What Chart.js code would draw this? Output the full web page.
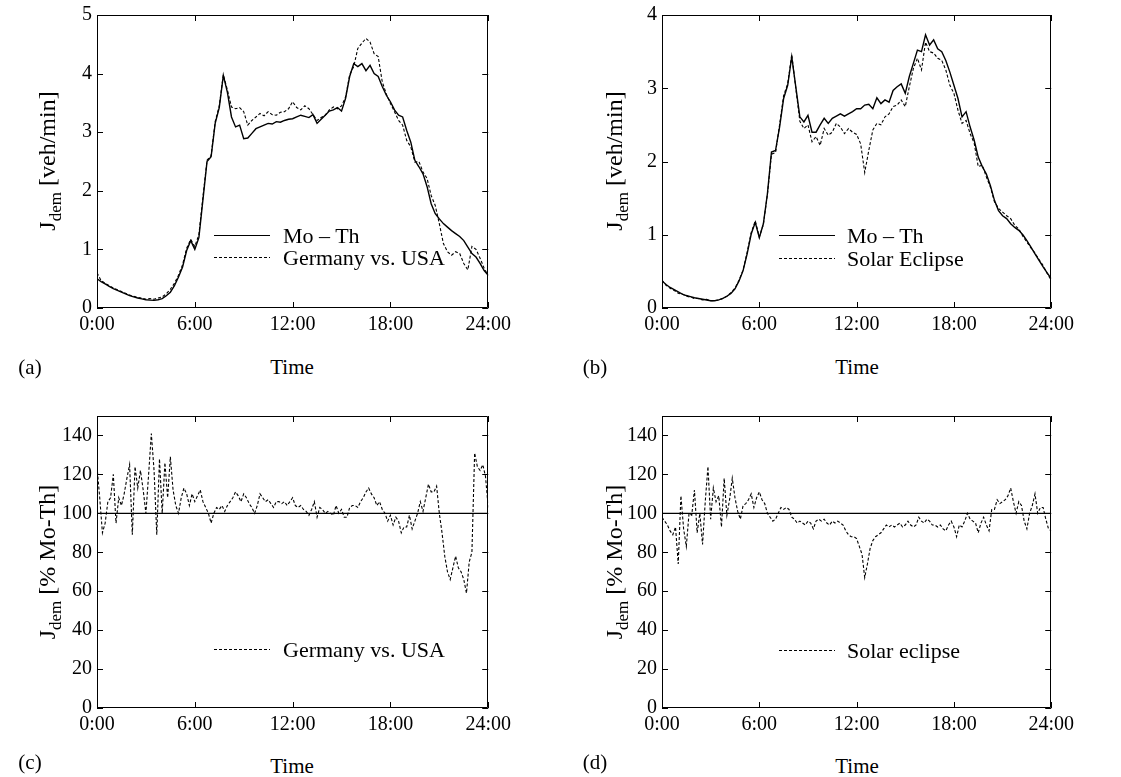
<!DOCTYPE html>
<html>
<head>
<meta charset="utf-8">
<script src="https://cdn.jsdelivr.net/npm/chart.js@4.4.1/dist/chart.umd.min.js"></script>
<style>
    body { margin: 0; background: #fff; width: 1121px; height: 777px; overflow: hidden; position: relative;
           font-family: "Liberation Serif", "Times New Roman", serif; color: #000; }
    canvas { position: absolute; }
    .c { position: absolute; transform: translate(-50%, -50%); font-size: 21px; line-height: 1; white-space: nowrap; }
    .yt { transform: translate(-50%, -50%) rotate(-90deg); font-size: 24px; }
    .yt .sub { font-size: 17px; position: relative; top: 6px; }
    .leg { position: absolute; font-size: 22px; line-height: 1; white-space: nowrap; transform: translateY(-50%); }
    .ln { position: absolute; width: 56px; height: 1px; background: #000; }
    .ln.dash { background: repeating-linear-gradient(to right, #000 0 3px, transparent 3px 5px); }
</style>
</head>
<body>
<canvas id="panelA"></canvas>
<canvas id="panelB"></canvas>
<canvas id="panelC"></canvas>
<canvas id="panelD"></canvas>

<!-- axis titles -->
<div class="c yt" style="left:47px;top:161px">J<span class="sub">dem</span> [veh/min]</div>
<div class="c yt" style="left:614px;top:161px">J<span class="sub">dem</span> [veh/min]</div>
<div class="c yt" style="left:47px;top:562px">J<span class="sub">dem</span> [% Mo-Th]</div>
<div class="c yt" style="left:614px;top:562px">J<span class="sub">dem</span> [% Mo-Th]</div>
<div class="c" style="left:292px;top:367px">Time</div>
<div class="c" style="left:857px;top:367px">Time</div>
<div class="c" style="left:292px;top:766px">Time</div>
<div class="c" style="left:857px;top:766px">Time</div>
<div class="c" style="left:30px;top:367px">(a)</div>
<div class="c" style="left:595px;top:367px">(b)</div>
<div class="c" style="left:30px;top:762px">(c)</div>
<div class="c" style="left:595px;top:762px">(d)</div>

<!-- legends -->
<div class="ln" style="left:214px;top:235px"></div>
<div class="leg" style="left:283px;top:236px">Mo – Th</div>
<div class="ln dash" style="left:214px;top:257px"></div>
<div class="leg" style="left:283px;top:258px">Germany vs. USA</div>

<div class="ln" style="left:779px;top:235px"></div>
<div class="leg" style="left:847px;top:236px">Mo – Th</div>
<div class="ln dash" style="left:779px;top:258px"></div>
<div class="leg" style="left:847px;top:259px">Solar Eclipse</div>

<div class="ln dash" style="left:214px;top:649px"></div>
<div class="leg" style="left:283px;top:650px">Germany vs. USA</div>
<div class="ln dash" style="left:779px;top:650px"></div>
<div class="leg" style="left:847px;top:651px">Solar eclipse</div>

<script>
// x axis (hours of the day)
const xTickHours = [0, 6, 12, 18, 24];
const xTickLabels = ['0:00', '6:00', '12:00', '18:00', '24:00'];

// y ticks
const flowTicksA = [0, 1, 2, 3, 4, 5];
const flowTicksB = [0, 1, 2, 3, 4];
const pctTicks = [0, 20, 40, 60, 80, 100, 120, 140];

// (a),(b): demand in veh/min, one value every 15 min
const stepFlow = 0.25;
const aMoTh = [0.50,0.45,0.41,0.37,0.33,0.30,0.27,0.24,0.21,0.19,0.17,0.155,0.14,0.135,0.13,0.14,0.16,0.21,0.27,0.38,
    0.53,0.70,0.98,1.15,1.00,1.20,1.85,2.50,2.58,3.15,3.42,3.97,3.68,3.26,3.09,3.12,2.89,2.90,2.98,3.06,
    3.09,3.12,3.15,3.14,3.18,3.17,3.20,3.22,3.23,3.26,3.29,3.27,3.25,3.30,3.15,3.22,3.29,3.36,3.38,3.42,
    3.36,3.58,3.95,4.17,4.12,4.17,4.05,4.14,4.00,3.95,3.78,3.63,3.52,3.38,3.29,3.26,3.03,2.83,2.52,2.41,
    2.29,2.07,1.78,1.61,1.52,1.44,1.38,1.32,1.27,1.22,1.15,1.04,0.93,0.87,0.76,0.64,0.56];
const aGermany = [0.60,0.47,0.42,0.38,0.34,0.31,0.28,0.25,0.22,0.20,0.18,0.17,0.15,0.16,0.15,0.17,0.19,0.24,0.32,0.42,
    0.56,0.74,1.02,1.17,1.05,1.25,1.90,2.52,2.60,3.18,3.45,3.98,3.72,3.43,3.40,3.42,3.35,3.12,3.20,3.26,
    3.32,3.28,3.35,3.30,3.29,3.34,3.35,3.40,3.52,3.42,3.38,3.45,3.40,3.30,3.20,3.25,3.29,3.38,3.43,3.40,
    3.45,3.60,3.98,4.12,4.43,4.52,4.60,4.54,4.34,4.29,3.86,3.65,3.49,3.35,3.20,3.12,2.86,2.75,2.49,2.50,
    2.32,2.21,1.92,1.75,1.44,1.10,0.96,0.90,0.96,0.93,0.76,0.65,1.05,1.00,0.85,0.68,0.55];
const bMoTh = [0.37,0.32,0.28,0.25,0.22,0.19,0.17,0.155,0.14,0.13,0.12,0.11,0.10,0.10,0.11,0.13,0.16,0.20,0.26,0.37,
    0.51,0.74,1.01,1.17,0.96,1.15,1.56,2.13,2.15,2.47,2.86,3.04,3.43,3.02,2.61,2.54,2.63,2.40,2.40,2.50,
    2.59,2.52,2.59,2.62,2.65,2.62,2.65,2.68,2.72,2.72,2.77,2.78,2.72,2.87,2.79,2.84,2.81,2.97,3.02,3.06,
    2.93,3.16,3.34,3.52,3.50,3.73,3.59,3.66,3.54,3.50,3.38,3.22,3.04,2.86,2.61,2.68,2.47,2.29,2.06,1.93,
    1.83,1.67,1.47,1.33,1.26,1.22,1.15,1.10,1.06,1.00,0.92,0.83,0.74,0.65,0.56,0.48,0.40];
const bEclipse = [0.38,0.31,0.27,0.24,0.20,0.19,0.16,0.15,0.13,0.13,0.11,0.12,0.10,0.10,0.11,0.13,0.16,0.21,0.27,0.38,
    0.52,0.76,1.03,1.19,0.97,1.14,1.55,2.10,2.12,2.50,2.90,3.06,3.46,3.00,2.55,2.45,2.50,2.27,2.34,2.22,
    2.45,2.36,2.40,2.52,2.47,2.38,2.45,2.40,2.37,2.24,1.85,2.15,2.43,2.52,2.50,2.61,2.65,2.75,2.77,2.84,
    2.75,3.02,3.27,3.41,3.25,3.63,3.50,3.48,3.41,3.38,3.25,3.04,2.93,2.70,2.52,2.56,2.38,2.25,1.93,1.95,
    1.79,1.65,1.45,1.36,1.31,1.26,1.22,1.13,1.08,0.98,0.90,0.82,0.75,0.66,0.58,0.47,0.38];

// (c),(d): demand in % of Mo-Th, one value every 10 min
const stepPct = 1 / 6;
const cGermanyPct = [124,108,90,95,106,108,120,95,108,104,110,118,125,89,124,113,122,112,100,120,141,122,89,128,100,126,108,129,112,104,
    100,108,113,110,104,110,106,109,112,106,103,100,95,100,103,102,104,101,104,106,108,111,109,106,110,108,105,103,100,104,
    110,108,106,107,105,103,106,106,105,106,104,106,108,104,103,104,102,101,99,102,106,98,103,102,100,101,100,99,104,100,
    102,98,98,103,104,104,103,106,108,111,113,110,108,104,106,102,100,96,99,94,98,96,90,93,93,99,92,96,100,106,
    101,108,115,111,111,114,100,90,78,70,66,72,78,72,70,66,59,75,80,131,124,122,125,119,103];
const dEclipsePct = [98,96,94,91,89,93,74,109,92,83,100,99,112,90,100,84,106,124,97,113,106,109,93,118,99,107,118,108,101,97,
    104,105,107,110,103,108,111,107,105,100,98,96,97,100,103,102,103,102,98,97,95,96,95,94,96,95,92,96,97,96,
    97,95,94,96,95,96,95,94,91,89,88,88,87,83,79,67,74,82,86,88,89,90,92,94,93,94,93,94,95,93,
    94,96,94,93,94,98,96,95,97,96,94,94,93,94,92,91,94,96,93,88,94,93,96,100,97,96,95,90,95,98,
    94,91,102,102,107,105,106,107,109,113,106,100,106,104,96,92,100,104,110,100,103,103,97,92,91];

// reference level (Mo-Th = 100 %)
const refLevel = [100, 100];

const TICK_FONT = { family: 'Liberation Serif', size: 20 };

// frame with inward ticks on all four sides (gnuplot look)
const framePlugin = {
    id: 'frame',
    afterDatasetsDraw(chart) {
        const ctx = chart.ctx;
        const a = chart.chartArea;
        const xs = chart.scales.x;
        const ys = chart.scales.y;
        const len = 6;
        ctx.save();
        ctx.strokeStyle = '#000';
        ctx.lineWidth = 1;
        ctx.beginPath();
        ctx.rect(Math.round(a.left) + 0.5, Math.round(a.top) + 0.5, Math.round(a.width) - 1, Math.round(a.height) - 1);
        ys.ticks.forEach(function (t) {
            const y = Math.round(ys.getPixelForValue(t.value)) + 0.5;
            ctx.moveTo(a.left, y); ctx.lineTo(a.left + len, y);
            ctx.moveTo(a.right, y); ctx.lineTo(a.right - len, y);
        });
        xs.ticks.forEach(function (t) {
            const x = Math.round(xs.getPixelForValue(t.value)) + 0.5;
            ctx.moveTo(x, a.top); ctx.lineTo(x, a.top + len);
            ctx.moveTo(x, a.bottom); ctx.lineTo(x, a.bottom - len);
        });
        ctx.stroke();
        ctx.restore();
    }
};

function toPoints(values, step) {
    return values.map(function (v, i) { return { x: i * step, y: v }; });
}

function buildConfig(series, yMax, yTicks) {
    return {
        type: 'line',
        data: {
            datasets: series.map(function (s) {
                return {
                    data: toPoints(s.values, s.step),
                    borderColor: '#000',
                    borderWidth: s.dashed ? 1.1 : 1.4,
                    borderDash: s.dashed ? [3, 2] : [],
                    pointRadius: 0,
                    tension: 0,
                    fill: false
                };
            })
        },
        options: {
            responsive: false,
            maintainAspectRatio: false,
            animation: false,
            layout: { padding: 0 },
            plugins: { legend: { display: false }, tooltip: { enabled: false } },
            scales: {
                x: {
                    type: 'linear', min: 0, max: 24,
                    grid: { display: false, drawTicks: false },
                    border: { display: false },
                    afterFit: function (s) { s.height = 40; },
                    afterBuildTicks: function (s) { s.ticks = xTickHours.map(function (v) { return { value: v }; }); },
                    ticks: {
                        font: TICK_FONT, color: '#000', padding: 5, maxRotation: 0, autoSkip: false,
                        callback: function (v) { return xTickLabels[xTickHours.indexOf(v)]; }
                    }
                },
                y: {
                    min: 0, max: yMax,
                    grid: { display: false, drawTicks: false },
                    border: { display: false },
                    afterFit: function (s) { s.width = 60; },
                    afterBuildTicks: function (s) { s.ticks = yTicks.map(function (v) { return { value: v }; }); },
                    ticks: { font: TICK_FONT, color: '#000', padding: 5, autoSkip: false }
                }
            }
        },
        plugins: [framePlugin]
    };
}

// build once, measure the plot area, then rebuild so the plot area lands on the given box
function makePanel(id, box, series, yMax, yTicks) {
    const canvas = document.getElementById(id);
    canvas.width = box.w + 120;
    canvas.height = box.h + 90;
    let chart = new Chart(canvas, buildConfig(series, yMax, yTicks));
    const a = chart.chartArea;
    const w = Math.round(canvas.width + box.w - (a.right - a.left));
    const h = Math.round(canvas.height + box.h - (a.bottom - a.top));
    chart.destroy();
    canvas.width = w;
    canvas.height = h;
    chart = new Chart(canvas, buildConfig(series, yMax, yTicks));
    const b = chart.chartArea;
    canvas.style.left = Math.round(box.x - b.left) + 'px';
    canvas.style.top = Math.round(box.y - b.top) + 'px';
}

makePanel('panelA', { x: 97, y: 15, w: 391, h: 293 }, [
    { values: aMoTh, step: stepFlow },
    { values: aGermany, step: stepFlow, dashed: true }
], 5, flowTicksA);

makePanel('panelB', { x: 662, y: 15, w: 389, h: 293 }, [
    { values: bMoTh, step: stepFlow },
    { values: bEclipse, step: stepFlow, dashed: true }
], 4, flowTicksB);

makePanel('panelC', { x: 97, y: 416, w: 391, h: 292 }, [
    { values: refLevel, step: 24 },
    { values: cGermanyPct, step: stepPct, dashed: true }
], 150, pctTicks);

makePanel('panelD', { x: 662, y: 416, w: 389, h: 292 }, [
    { values: refLevel, step: 24 },
    { values: dEclipsePct, step: stepPct, dashed: true }
], 150, pctTicks);
</script>
</body>
</html>
